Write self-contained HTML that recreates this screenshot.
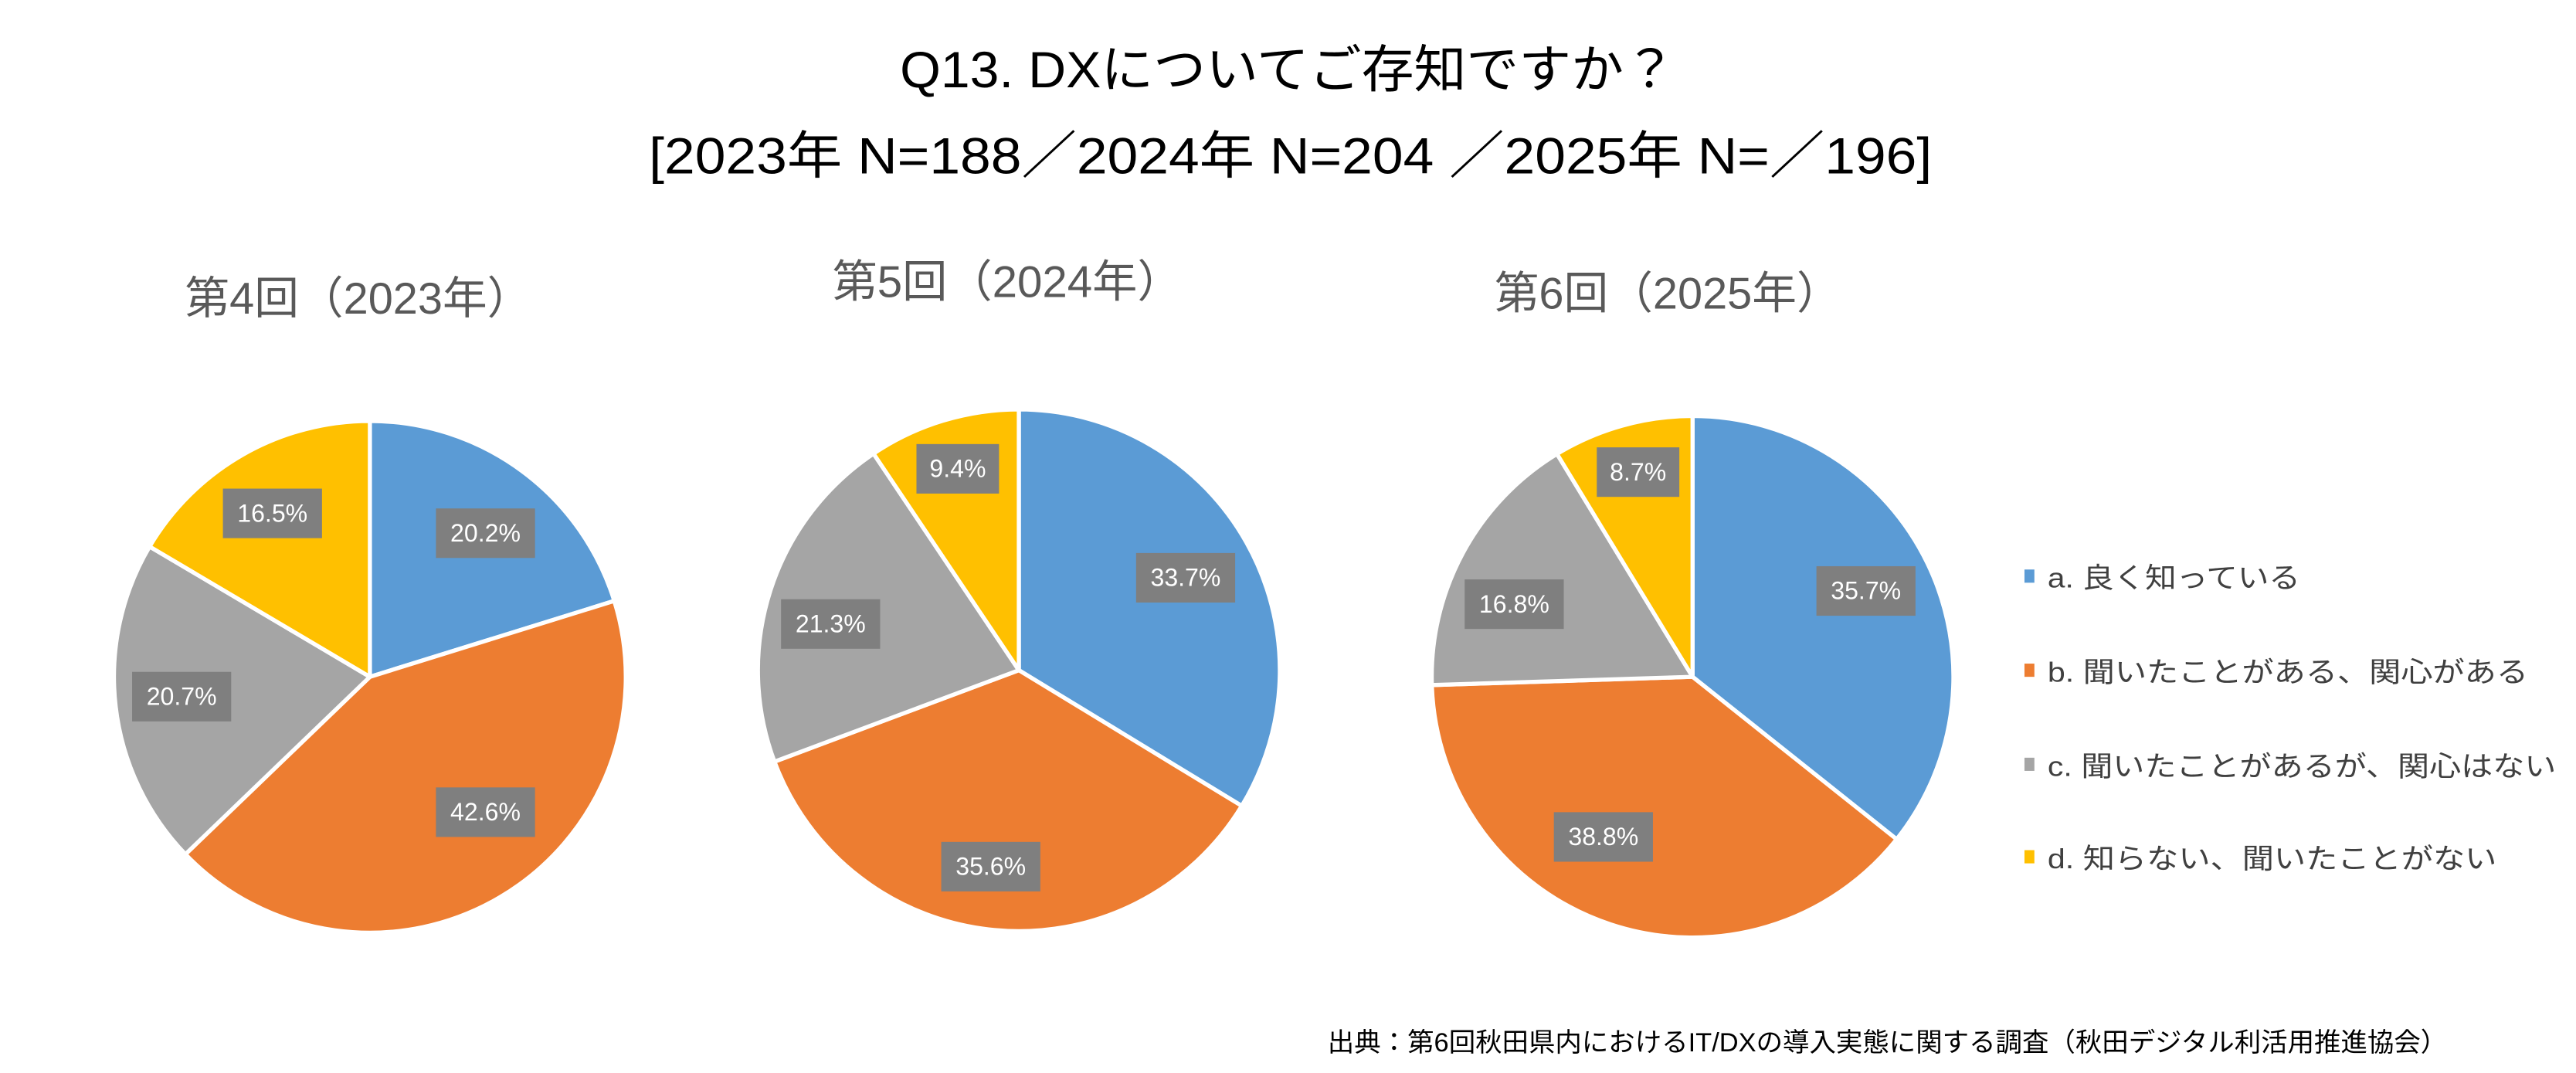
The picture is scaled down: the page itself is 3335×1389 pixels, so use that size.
<!DOCTYPE html>
<html><head><meta charset="utf-8"><style>
html,body{margin:0;padding:0;background:#fff;}
svg{display:block;}
text{font-family:"Liberation Sans","Noto Sans CJK JP",sans-serif;}
</style></head><body>
<svg width="3335" height="1389" viewBox="0 0 1560 650" preserveAspectRatio="none" xmlns="http://www.w3.org/2000/svg">
<rect width="1560" height="650" fill="#fff"/>
<text x="545" y="53" font-size="31" textLength="470" lengthAdjust="spacingAndGlyphs" fill="#000">Q13.  DXについてご存知ですか？</text>
<text x="393" y="105" font-size="31" textLength="777" lengthAdjust="spacingAndGlyphs" fill="#000">[2023年 N=188／2024年 N=204 ／2025年 N=／196]</text>
<text x="112" y="190" font-size="27" textLength="210" lengthAdjust="spacingAndGlyphs" fill="#595959">第4回（2023年）</text>
<text x="504" y="180" font-size="27" textLength="212" lengthAdjust="spacingAndGlyphs" fill="#595959">第5回（2024年）</text>
<text x="905" y="187" font-size="27" textLength="210" lengthAdjust="spacingAndGlyphs" fill="#595959">第6回（2025年）</text>
<g stroke="#fff" stroke-width="2.5" stroke-linejoin="round">
<path d="M224,410 L224,255 A155,155 0 0 1 372,364 Z" fill="#5b9bd5"/>
<path d="M224,410 L372,364 A155,155 0 0 1 112.3,517.5 Z" fill="#ed7d31"/>
<path d="M224,410 L112.3,517.5 A155,155 0 0 1 90.6,331.1 Z" fill="#a5a5a5"/>
<path d="M224,410 L90.6,331.1 A155,155 0 0 1 224,255 Z" fill="#ffc000"/>
<path d="M617,406 L617,248 A158,158 0 0 1 752,488.2 Z" fill="#5b9bd5"/>
<path d="M617,406 L752,488.2 A158,158 0 0 1 469,461.4 Z" fill="#ed7d31"/>
<path d="M617,406 L469,461.4 A158,158 0 0 1 529,274.8 Z" fill="#a5a5a5"/>
<path d="M617,406 L529,274.8 A158,158 0 0 1 617,248 Z" fill="#ffc000"/>
<path d="M1025,410 L1025,252 A158,158 0 0 1 1148.6,508.4 Z" fill="#5b9bd5"/>
<path d="M1025,410 L1148.6,508.4 A158,158 0 0 1 867.1,415 Z" fill="#ed7d31"/>
<path d="M1025,410 L867.1,415 A158,158 0 0 1 942.9,275 Z" fill="#a5a5a5"/>
<path d="M1025,410 L942.9,275 A158,158 0 0 1 1025,252 Z" fill="#ffc000"/>
</g>
<g fill="#7f7f7f">
<rect x="264" y="308" width="60" height="30"/><rect x="264" y="477" width="60" height="30"/>
<rect x="80" y="407" width="60" height="30"/><rect x="135" y="296" width="60" height="30"/>
<rect x="688" y="335" width="60" height="30"/><rect x="570" y="510" width="60" height="30"/>
<rect x="473" y="363" width="60" height="30"/><rect x="555" y="269" width="50" height="30"/>
<rect x="1100" y="343" width="60" height="30"/><rect x="941" y="492" width="60" height="30"/>
<rect x="887" y="351" width="60" height="30"/><rect x="967" y="271" width="50" height="30"/>
</g>
<g fill="#fff" font-size="15" text-anchor="middle">
<text x="294" y="328">20.2%</text><text x="294" y="497">42.6%</text>
<text x="110" y="427">20.7%</text><text x="165" y="316">16.5%</text>
<text x="718" y="355">33.7%</text><text x="600" y="530">35.6%</text>
<text x="503" y="383">21.3%</text><text x="580" y="289">9.4%</text>
<text x="1130" y="363">35.7%</text><text x="971" y="512">38.8%</text>
<text x="917" y="371">16.8%</text><text x="992" y="291">8.7%</text>
</g>
<rect x="1226" y="345" width="6" height="8" fill="#5b9bd5"/>
<rect x="1226" y="402" width="6" height="8" fill="#ed7d31"/>
<rect x="1226" y="459" width="6" height="8" fill="#a5a5a5"/>
<rect x="1226" y="515" width="6" height="8" fill="#ffc000"/>
<g font-size="17" fill="#404040" lengthAdjust="spacingAndGlyphs">
<text x="1240" y="356" textLength="153" lengthAdjust="spacingAndGlyphs">a. 良く知っている</text>
<text x="1240" y="413" textLength="291" lengthAdjust="spacingAndGlyphs">b. 聞いたことがある、関心がある</text>
<text x="1240" y="470" textLength="308" lengthAdjust="spacingAndGlyphs">c. 聞いたことがあるが、関心はない</text>
<text x="1240" y="526" textLength="272" lengthAdjust="spacingAndGlyphs">d. 知らない、聞いたことがない</text>
</g>
<text x="804" y="637" font-size="16" textLength="678" lengthAdjust="spacingAndGlyphs" fill="#000">出典：第6回秋田県内におけるIT/DXの導入実態に関する調査（秋田デジタル利活用推進協会）</text>
</svg>
</body></html>
